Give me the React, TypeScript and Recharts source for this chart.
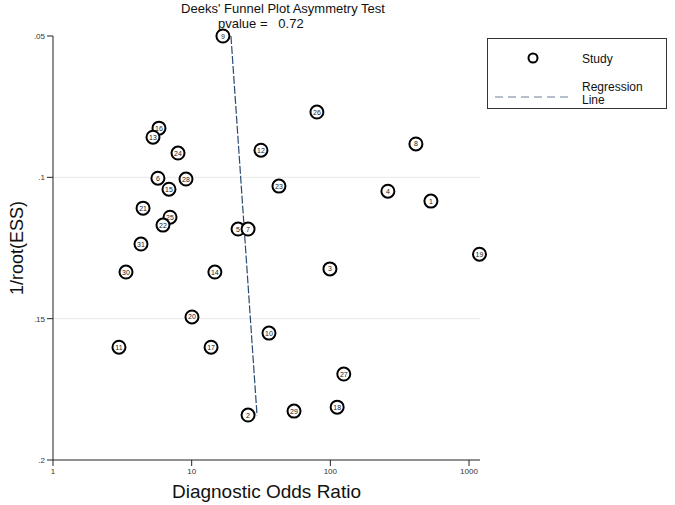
import React from "react";
import {
  ScatterChart,
  Scatter,
  XAxis,
  YAxis,
  ReferenceLine,
} from "recharts";

const studyIds = [9, 26, 8, 16, 13, 24, 12, 6, 28, 15, 23, 4, 1, 21, 25, 22, 5, 7, 31, 19, 30, 14, 3, 20, 10, 11, 17, 27, 18, 29, 2];
const dorValues = [16.8, 80, 414, 5.81, 5.26, 7.97, 31.6, 5.71, 9.1, 6.86, 42.6, 260, 531, 4.46, 6.98, 6.21, 21.6, 25.5, 4.31, 1190, 3.36, 14.7, 99.3, 10.05, 36.1, 2.99, 13.8, 125, 112, 54.7, 25.5];
const invRootEss = [0.05, 0.0769, 0.0882, 0.0826, 0.0858, 0.0914, 0.0904, 0.1003, 0.1006, 0.1042, 0.1031, 0.1049, 0.1084, 0.1109, 0.1141, 0.1169, 0.1183, 0.1183, 0.1236, 0.1272, 0.1335, 0.1335, 0.1324, 0.1494, 0.1551, 0.1601, 0.1601, 0.1696, 0.1813, 0.1827, 0.1841];

const regressionX = [19.2, 29.6];
const regressionY = [0.05, 0.1842];

const xTicks = [1, 10, 100, 1000];
const yTicks = [0.05, 0.1, 0.15, 0.2];
const yTickLabels = [".05", ".1", ".15", ".2"];
const gridLines = [0.1, 0.15];

const studyData = studyIds.map((id, i) => ({ id, x: dorValues[i], y: invRootEss[i] }));
const regressionData = regressionX.map((x, i) => ({ x, y: regressionY[i] }));

const FONT = "'Liberation Sans', Arial, sans-serif";
const LINE_COLOR = "#2b4a70";

const StudyShape = (props: any) => {
  const { cx, cy, payload } = props;
  if (cx == null || cy == null) return null;
  return (
    <g>
      <circle cx={cx} cy={cy} r={6.5} fill="#fff" stroke="#000" strokeWidth={2} />
      <text
        x={cx}
        y={cy + 2.5}
        textAnchor="middle"
        fontSize={7}
        fontFamily={FONT}
        fill="#222"
      >
        {payload.id}
      </text>
    </g>
  );
};

const LegendBox = () => (
  <div
    style={{
      position: "absolute",
      left: 487,
      top: 38,
      width: 178,
      height: 69,
      border: "1px solid #333",
      background: "#fff",
      fontFamily: FONT,
    }}
  >
    <svg width={178} height={69} style={{ position: "absolute", left: 0, top: 0 }}>
      <circle cx={45} cy={19} r={4.5} fill="#fff" stroke="#000" strokeWidth={2} />
      <line x1={7} y1={58} x2={82} y2={58} stroke="#6d7f93" strokeWidth={1} strokeDasharray="8 5" />
      <text x={94} y={24} fontSize={12} fontFamily={FONT} fill="#111">Study</text>
      <text x={94} y={52} fontSize={12} fontFamily={FONT} fill="#111">Regression</text>
      <text x={94} y={65} fontSize={12} fontFamily={FONT} fill="#111">Line</text>
    </svg>
  </div>
);

const YLabel = (props: any) => {
  const vb = props.viewBox || {};
  const cy = (vb.y ?? 36) + (vb.height ?? 424) / 2;
  const x = 17;
  return (
    <text
      x={x}
      y={cy}
      transform={`rotate(-90 ${x} ${cy})`}
      textAnchor="middle"
      dominantBaseline="central"
      fontSize={18}
      fontFamily={FONT}
      fill="#111"
    >
      1/root(ESS)
    </text>
  );
};

export default function App() {
  return (
    <div
      style={{
        position: "fixed",
        left: 0,
        top: 0,
        width: 675,
        height: 505,
        background: "#fff",
        fontFamily: FONT,
      }}
    >
      <div
        style={{
          position: "absolute",
          left: 0,
          width: 566,
          top: 1,
          textAlign: "center",
          fontSize: 13,
          color: "#111",
          lineHeight: "15px",
        }}
      >
        Deeks' Funnel Plot Asymmetry Test
      </div>
      <div
        style={{
          position: "absolute",
          left: 218,
          top: 16,
          fontSize: 13,
          color: "#111",
          lineHeight: "15px",
          whiteSpace: "pre",
        }}
      >
        {"pvalue =   0.72"}
      </div>
      <ScatterChart
        width={675}
        height={505}
        margin={{ top: 36, right: 195, bottom: 0, left: 8 }}
      >
        {gridLines.map((g) => (
          <ReferenceLine key={g} y={g} stroke="#e8e8e8" strokeWidth={1} />
        ))}
        <XAxis
          type="number"
          dataKey="x"
          scale="log"
          domain={[1, 1200]}
          ticks={xTicks}
          height={45}
          tickSize={6}
          stroke="#222"
          tick={{ fontSize: 8, fill: "#333", fontFamily: FONT }}
          tickFormatter={(v: number) => String(v)}
          label={{
            value: "Diagnostic Odds Ratio",
            position: "insideBottom",
            offset: 7,
            style: { fontSize: 19, fill: "#111", fontFamily: FONT },
          }}
        />
        <YAxis
          type="number"
          dataKey="y"
          domain={[0.05, 0.2]}
          ticks={yTicks}
          reversed
          width={45}
          tickSize={6}
          stroke="#222"
          tick={{ fontSize: 8, fill: "#333", fontFamily: FONT }}
          tickFormatter={(v: number) => yTickLabels[yTicks.indexOf(v)] ?? String(v)}
          label={<YLabel />}
        />
        <Scatter
          name="Regression Line"
          data={regressionData}
          line={{ stroke: LINE_COLOR, strokeWidth: 1.2, strokeDasharray: "8 2" }}
          shape={() => null}
          isAnimationActive={false}
        />
        <Scatter
          name="Study"
          data={studyData}
          shape={StudyShape}
          isAnimationActive={false}
        />
      </ScatterChart>
      <LegendBox />
    </div>
  );
}
